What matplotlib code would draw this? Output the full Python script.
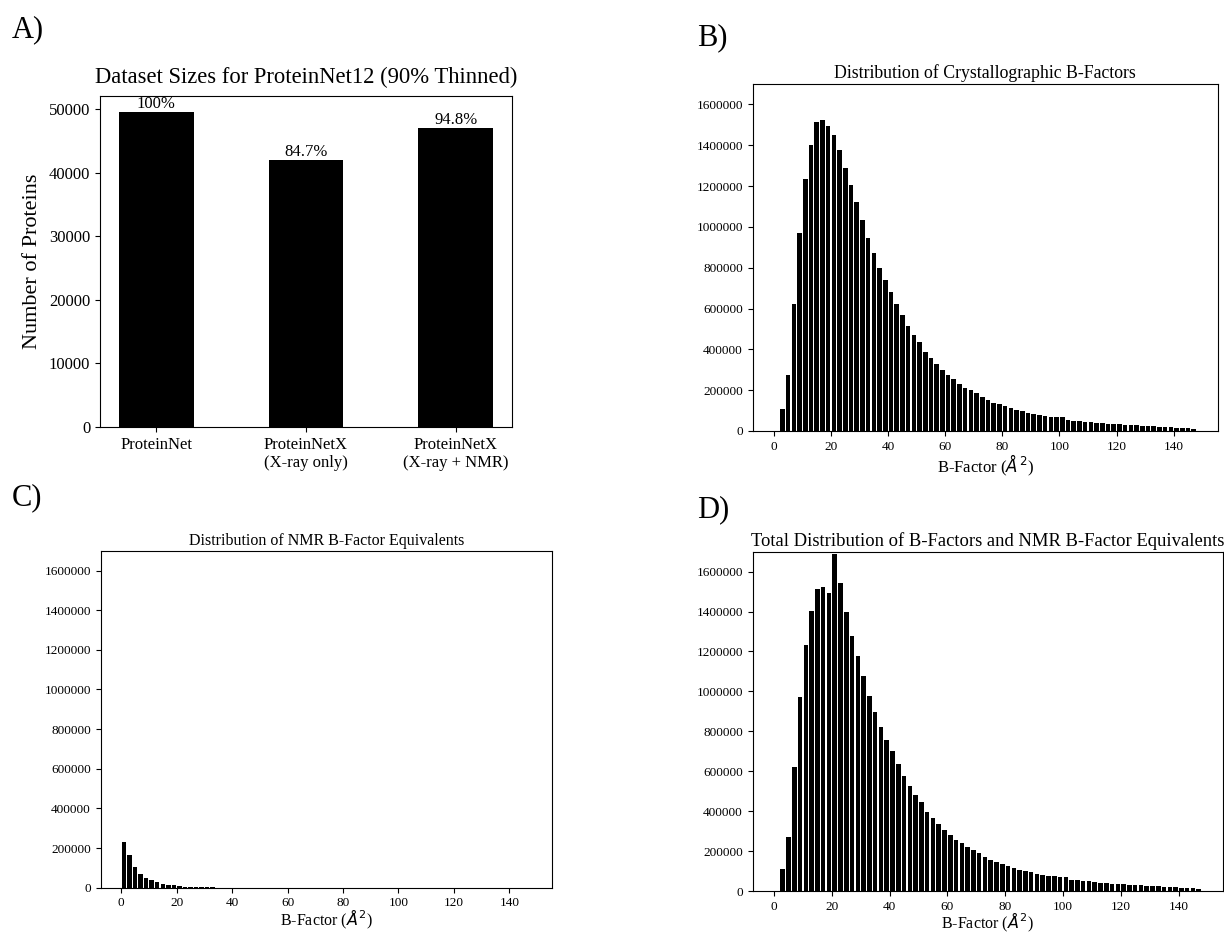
import numpy as np
import matplotlib
matplotlib.use('Agg')
import matplotlib.pyplot as plt

plt.rcParams['font.family'] = ['Liberation Serif', 'DejaVu Serif']

# panel A data
datasets = ['ProteinNet', 'ProteinNetX\n(X-ray only)', 'ProteinNetX\n(X-ray + NMR)']
n_proteins = [49600, 42000, 47050]
pct_labels = ['100%', '84.7%', '94.8%']

# histogram bins (B-factor, width 2)
bin_edges = np.arange(0, 150, 2)
bin_centers = bin_edges[:-1] + 1

xray_counts = [0, 106000, 272000, 620000, 970000, 1235000, 1402000, 1513000, 1523000, 1492000,
               1451000, 1376000, 1289000, 1204000, 1122000, 1036000, 946000, 872000, 800000, 739000,
               682000, 623000, 568000, 515000, 470000, 435000, 389000, 358000, 329000, 301000,
               275000, 254000, 232000, 213000, 200000, 187000, 168000, 152000, 139000, 131000,
               123000, 111000, 103000, 97000, 90000, 83000, 77000, 72000, 70000, 67000,
               67000, 54000, 51000, 47000, 46000, 43000, 39000, 38000, 36000, 34000,
               33000, 31000, 29000, 28000, 26000, 23000, 23000, 21000, 20000, 18000,
               16000, 15000, 13000, 11000]

nmr_counts = [232000, 165000, 103000, 69000, 49000, 37000, 27000, 20000, 15000, 12000,
              8000, 6000, 4500, 3500, 2500, 2000, 1500, 1000, 700, 500] + [0] * 54

total_counts = [0, 108000, 273000, 623000, 974000, 1235000, 1404000, 1513000, 1523000, 1493000,
                1690000, 1545000, 1399000, 1277000, 1177000, 1077000, 977000, 897000, 822000, 759000,
                699000, 638000, 578000, 526000, 481000, 445000, 398000, 365000, 335000, 306000,
                283000, 258000, 238000, 218000, 205000, 191000, 171000, 156000, 143000, 134000,
                126000, 114000, 106000, 100000, 93000, 86000, 80000, 75000, 73000, 70000,
                69000, 56000, 53000, 49000, 48000, 45000, 41000, 39000, 37000, 35000,
                33000, 32000, 30000, 29000, 27000, 24000, 24000, 22000, 21000, 19000,
                17000, 16000, 14000, 12000]

W, H = 1224, 932
fig = plt.figure(figsize=(W / 100, H / 100), dpi=100)


def px_axes(left, top, right, bottom):
    return fig.add_axes([left / W, 1 - bottom / H, (right - left) / W, (bottom - top) / H])


# A) dataset sizes
ax = px_axes(100, 96, 512, 427)
xs = np.arange(len(datasets))
ax.bar(xs, n_proteins, width=0.5, color='black')
for x, n, lab in zip(xs, n_proteins, pct_labels):
    ax.text(x, n, lab, ha='center', va='bottom', fontsize=12)
ax.set_xticks(xs)
ax.set_xticklabels(datasets, fontsize=12)
ax.tick_params(axis='y', labelsize=12)
ax.set_ylabel('Number of Proteins', fontsize=16, labelpad=5)
ax.set_title('Dataset Sizes for ProteinNet12 (90% Thinned)', fontsize=16.3, pad=9)


def hist_panel(rect, counts, title, title_size, label_size, labelpad):
    ax = px_axes(*rect)
    ax.bar(bin_centers, counts, width=1.6, color='black')
    ax.set_xlim(-7.4, 155.4)
    ax.set_ylim(0, 1700000)
    ax.set_yticks(range(0, 1600001, 200000))
    ax.ticklabel_format(axis='y', style='plain', useOffset=False)
    ax.tick_params(labelsize=9.5)
    ax.set_xlabel(r'B-Factor ($\AA^2$)', fontsize=label_size, labelpad=labelpad)
    ax.set_title(title, fontsize=title_size, pad=4)
    return ax


hist_panel((752.7, 84, 1217.7, 431), xray_counts,
           'Distribution of Crystallographic B-Factors', 12.8, 12, 0)
hist_panel((100.7, 550.7, 552, 887.7), nmr_counts,
           'Distribution of NMR B-Factor Equivalents', 11.5, 11.5, -1)
hist_panel((752.7, 551.7, 1223, 891), total_counts,
           'Total Distribution of B-Factors and NMR B-Factor Equivalents', 13.4, 11.5, -1.5)

for lab, x, y in [('A)', 12, 30), ('B)', 697, 38), ('C)', 12, 498), ('D)', 697, 510)]:
    fig.text(x / W, 1 - y / H, lab, fontsize=22, ha='left', va='center')

fig.savefig('out.png', dpi=100)
